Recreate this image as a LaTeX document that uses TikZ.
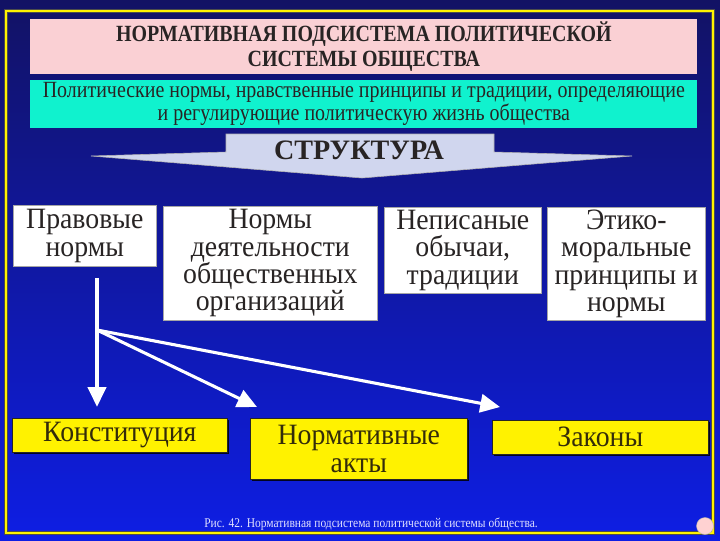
\documentclass[tikz,border=0pt]{standalone}
\usepackage{fontspec}
\setmainfont{Liberation Serif}
\newfontfamily\narrowserif{Liberation Serif}[FakeStretch=0.86]
\newfontfamily\boxserif{Liberation Serif}[FakeStretch=0.94]
\usepackage{tikz}
\usetikzlibrary{positioning}
\usetikzlibrary{arrows.meta}
\usetikzlibrary{shadows}

\definecolor{bgtop}{RGB}{18,18,100}
\definecolor{bgmid}{RGB}{10,20,205}
\definecolor{bgbot}{RGB}{14,30,228}
\definecolor{titlepink}{RGB}{250,208,212}
\definecolor{aqua}{RGB}{16,242,206}
\definecolor{bannerfill}{RGB}{208,214,238}
\definecolor{txtdark}{RGB}{40,36,36}
\definecolor{txtolive}{RGB}{52,44,10}

\begin{document}
\begin{tikzpicture}[x=0.025cm, y=-0.025cm,
		wbox/.style={draw=gray!70, fill=white, text=txtdark, anchor=north west, align=center, inner sep=0pt, font=\boxserif\fontsize{21}{19.5}\selectfont},
		ybox/.style={draw=black!85, fill=yellow, text=txtolive, anchor=north west, align=center, inner sep=0pt, font=\boxserif\fontsize{21}{19.5}\selectfont, drop shadow={shadow xshift=1.5pt, shadow yshift=-1.5pt, fill=black, opacity=0.85}},
		arr/.style={draw=white, line width=2.2pt, -{Triangle[length=14pt, width=13pt]}}]
				\useasboundingbox (0,0) rectangle (720,540);
				\shade[top color=bgtop, middle color=bgmid, bottom color=bgbot] (0,0) rectangle (720,540);
				\draw[black!70, line width=2.8pt] (6,11) rectangle (713,533);
				\draw[yellow, line width=1.5pt] (6,11) rectangle (713,533);
				
				% header
				\node[anchor=north west, fill=titlepink, minimum width=16.675cm, minimum height=1.375cm, inner sep=0pt, align=center, text=txtdark, font=\narrowserif\bfseries\fontsize{16.5}{17.5}\selectfont] (title) at (30,19) {НОРМАТИВНАЯ ПОДСИСТЕМА ПОЛИТИЧЕСКОЙ\\СИСТЕМЫ ОБЩЕСТВА};
				\node[anchor=north west, fill=aqua, minimum width=16.675cm, minimum height=1.2cm, inner sep=0pt, align=center, text=txtdark, font=\narrowserif\fontsize{16.5}{15}\selectfont] (defn) at (30,80) {Политические нормы, нравственные принципы и традиции, определяющие\\и регулирующие политическую жизнь общества};
				
				% banner
				\fill[bannerfill, draw=gray!60] (226,134) -- (494,134) -- (494,152) -- (632,156) -- (362,178) -- (91,156) -- (226,152) -- cycle;
				\node[text=txtdark, font=\bfseries\fontsize{20}{20}\selectfont] (struct) at (359,150) {СТРУКТУРА};
				
				% kinds of norms
				\node[wbox, minimum width=3.575cm, minimum height=1.525cm] (pn) at (13,205) {Правовые\\нормы};
				\node[wbox, minimum width=5.35cm, minimum height=2.85cm] (nd) at (163,206) {Нормы\\деятельности\\общественных\\организаций};
				\node[wbox, minimum width=3.925cm, minimum height=2.15cm] (no) at (384,207) {Неписаные\\обычаи,\\традиции};
				\node[wbox, minimum width=3.95cm, minimum height=2.825cm] (em) at (547,207) {Этико-\\моральные\\принципы и\\нормы};
				
				% legal acts
				\node[ybox, minimum width=5.375cm, minimum height=0.85cm] (kon) at (12,418) {Конституция};
				\node[ybox, minimum width=5.425cm, minimum height=1.525cm] (akt) at (250,418) {Нормативные\\акты};
				\node[ybox, minimum width=5.4cm, minimum height=0.85cm] (zak) at (492,420) {Законы};
				
				\coordinate (br) at (97,330);
				\coordinate (t2) at (257,407);
				\coordinate (t3) at (500,407);
				\draw[white, line width=2.2pt, shorten <=0.28cm] (pn.south -| br) -- (br);
				\draw[arr, shorten >=0.28cm] (br) -- (kon.north -| br);
				\draw[arr] (br) -- (t2);
				\draw[arr] (br) -- (t3);
				
				\node[text=white!88!blue, font=\narrowserif\fontsize{9.5}{9.5}\selectfont] (cap) at (371,524) {Рис. 42. Нормативная подсистема политической системы общества.};
				\filldraw[fill=pink!70!white, draw=gray!60, line width=0.3pt] (705,526) circle (8.5);
			\end{tikzpicture}
\end{document}
